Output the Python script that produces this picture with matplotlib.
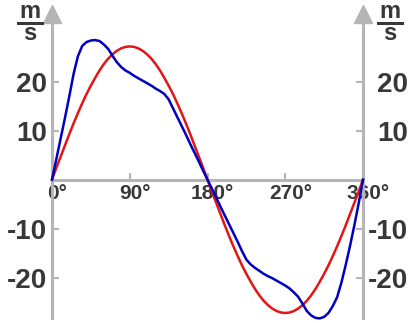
import matplotlib
matplotlib.use("Agg")
import matplotlib.pyplot as plt
from matplotlib.transforms import ScaledTranslation
from matplotlib.lines import Line2D

# ---- data ----
angles = [0, 5, 10, 15, 20, 25, 30, 35, 40, 45, 50, 55, 60, 65, 70, 75, 80, 85, 90,
          95, 100, 105, 110, 115, 120, 125, 130, 135, 140, 145, 150, 155, 160, 165, 170, 175, 180,
          185, 190, 195, 200, 205, 210, 215, 220, 225, 230, 235, 240, 245, 250, 255, 260, 265, 270,
          275, 280, 285, 290, 295, 300, 305, 310, 315, 320, 325, 330, 335, 340, 345, 350, 355, 360]
red_vals = [0, 2.4, 4.7, 7.0, 9.3, 11.5, 13.6, 15.6, 17.5, 19.2, 20.8, 22.3, 23.6, 24.7, 25.6,
            26.3, 26.8, 27.1, 27.2,
            27.1, 26.8, 26.3, 25.6, 24.7, 23.6, 22.3, 20.8, 19.2, 17.5, 15.6, 13.6, 11.5, 9.3,
            7.0, 4.7, 2.4, 0,
            -2.4, -4.7, -7.0, -9.3, -11.5, -13.6, -15.6, -17.5, -19.2, -20.8, -22.3, -23.6,
            -24.7, -25.6, -26.3, -26.8, -27.1, -27.2,
            -27.1, -26.8, -26.3, -25.6, -24.7, -23.6, -22.3, -20.8, -19.2, -17.5, -15.6, -13.6,
            -11.5, -9.3, -7.0, -4.7, -2.4, 0]
blue_vals = [0, 4.2, 8.4, 12.6, 17.0, 21.6, 25.2, 27.3, 28.1, 28.4, 28.5, 28.3, 27.6, 26.7,
             25.3, 24.0, 23.0, 22.3, 21.8,
             21.2, 20.7, 20.2, 19.7, 19.2, 18.6, 18.1, 17.5, 16.4, 14.6, 12.8, 11.0, 9.2, 7.3,
             5.5, 3.7, 1.8, 0,
             -1.8, -3.6, -5.5, -7.3, -9.1, -10.9, -12.7, -14.6, -16.3, -17.3, -18.0, -18.6,
             -19.2, -19.7, -20.1, -20.6, -21.1, -21.6,
             -22.2, -23.0, -23.9, -25.3, -26.8, -27.7, -28.2, -28.3, -28.0, -27.2, -25.8, -24.0,
             -21.0, -17.4, -13.5, -9.3, -4.8, 0]
x_ticks = [0, 90, 180, 270, 360]
x_tick_labels = ["0°", "90°", "180°", "270°", "360°"]
y_ticks = [-20, -10, 10, 20]
y_tick_labels = ["-20", "-10", "10", "20"]
unit_top = "m"
unit_bottom = "s"

W, H = 412, 323
fig = plt.figure(figsize=(W / 100, H / 100), dpi=100)
x0, x1 = 52, 363
ytop, ybot = 14, 318
ax = fig.add_axes([x0 / W, (H - ybot) / H, (x1 - x0) / W, (ybot - ytop) / H])

zero_px = 179.7
ppu = 4.9
ax.set_xlim(0, 360)
ax.set_ylim(-(ybot - zero_px) / ppu, (zero_px - ytop) / ppu)

axis_col = "#b5b5b5"
txt_col = "#383838"

ax.plot(angles, red_vals, color="#e31515", lw=1.8, clip_on=False, zorder=3,
        solid_joinstyle="round")
ax.plot(angles, blue_vals, color="#0000c0", lw=1.8, clip_on=False, zorder=4,
        solid_joinstyle="round")

for s in ["left", "right"]:
    ax.spines[s].set_color(axis_col)
    ax.spines[s].set_linewidth(2.2)
ax.spines["top"].set_visible(False)
ax.spines["bottom"].set_position(("data", 0))
ax.spines["bottom"].set_color(axis_col)
ax.spines["bottom"].set_linewidth(2.2)

ax.set_xticks(x_ticks)
ax.set_xticklabels(x_tick_labels)
ax.set_yticks(y_ticks)
ax.set_yticklabels(y_tick_labels)

ax.tick_params(axis="x", direction="in", length=5, width=1.5, color=axis_col,
               labelsize=15, labelcolor=txt_col, pad=3)
ax.tick_params(axis="y", direction="in", length=5, width=1.5, color=axis_col,
               labelsize=20, labelcolor=txt_col, pad=3.5, left=True, right=True,
               labelleft=True, labelright=True)

for lab in ax.get_xticklabels():
    lab.set_fontweight("bold")
    lab.set_fontfamily("Liberation Sans")
    lab.set_transform(lab.get_transform() + ScaledTranslation(5 / 100, 0, fig.dpi_scale_trans))

for t in ax.yaxis.get_major_ticks():
    for lab in (t.label1, t.label2):
        lab.set_fontweight("bold")
        lab.set_fontfamily("Liberation Sans")
    t.label2.set_horizontalalignment("right")
    t.label2.set_transform(t.label2.get_transform() +
                           ScaledTranslation(40 / 100, 0, fig.dpi_scale_trans))

# arrowheads at the top of the y axes
ax.plot([0, 1], [1, 1], linestyle="none", marker="^", markersize=13, color=axis_col,
        transform=ax.transAxes, clip_on=False, zorder=5)

# unit labels (fraction m / s)
for cx in (30, 390):
    fig.text(cx / W, 1 - 12 / H, unit_top, ha="center", va="center", fontsize=17,
             fontweight="bold", color=txt_col, family="Liberation Sans")
    fig.text(cx / W, 1 - 34 / H, unit_bottom, ha="center", va="center", fontsize=17,
             fontweight="bold", color=txt_col, family="Liberation Sans")
    fig.add_artist(Line2D([(cx - 12) / W, (cx + 12) / W], [1 - 23 / H, 1 - 23 / H],
                          color=txt_col, lw=2.2, transform=fig.transFigure))

fig.savefig("out.png", dpi=100)
